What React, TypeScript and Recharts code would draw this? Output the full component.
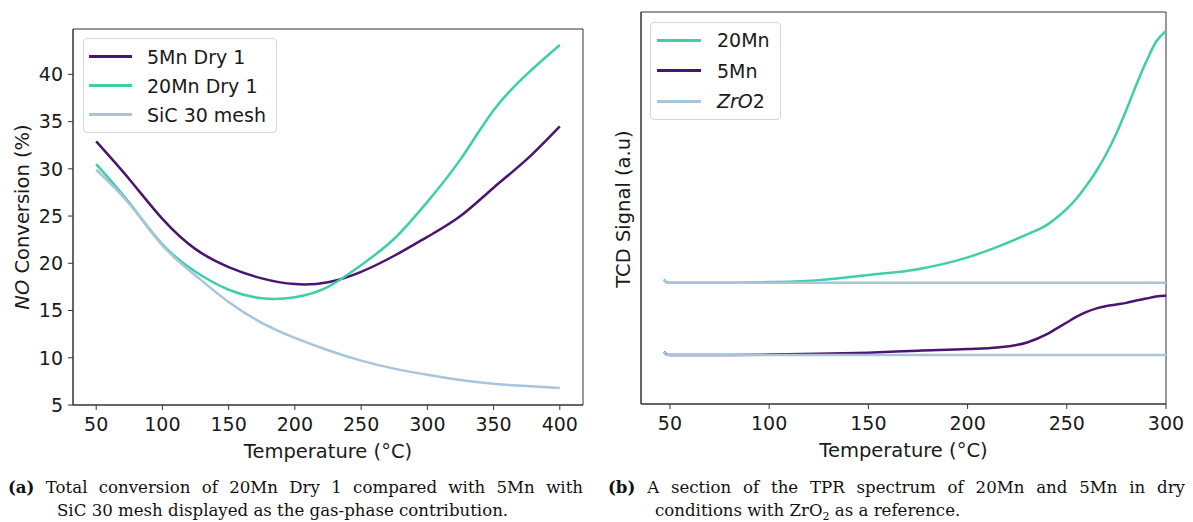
import React from "react";
import { LineChart, Line, XAxis, YAxis, ReferenceArea } from "recharts";

// (a) NO conversion vs temperature
const convTemps = [50, 75, 100, 125, 150, 175, 200, 225, 250, 275, 300, 325, 350, 375, 400];
const mn5Dry = [32.9, 28.9, 24.7, 21.5, 19.6, 18.4, 17.8, 18.0, 19.1, 20.8, 22.8, 25.0, 28.0, 31.0, 34.5];
const mn20Dry = [30.5, 26.4, 22.0, 19.1, 17.2, 16.3, 16.4, 17.5, 19.8, 22.6, 26.5, 31.0, 36.2, 40.0, 43.1];
const sicMesh = [29.9, 26.3, 21.9, 18.7, 15.9, 13.7, 12.1, 10.8, 9.7, 8.85, 8.2, 7.65, 7.25, 7.0, 6.8];
const convTicks = [50, 100, 150, 200, 250, 300, 350, 400];
const convYTicks = [5, 10, 15, 20, 25, 30, 35, 40];

// (b) TPR section, arbitrary units
const tprTemps = [47, 48.5, 50, 75, 100, 125, 150, 175, 200, 215, 230, 240, 245, 250, 255, 260, 265, 270, 275, 280, 285, 290, 295, 300];
const tpr20Mn = [31.8, 31.0, 30.9, 30.9, 31.1, 31.6, 32.9, 34.4, 37.4, 40.1, 43.3, 45.7, 47.6, 49.8, 52.5, 55.8, 59.5, 63.9, 69.0, 75.0, 81.4, 87.3, 92.4, 95.2];
const tpr5Mn = [13.3, 12.6, 12.5, 12.5, 12.6, 12.8, 13.1, 13.6, 14.0, 14.4, 15.7, 17.8, 19.3, 20.8, 22.3, 23.5, 24.4, 25.0, 25.4, 25.8, 26.4, 26.9, 27.4, 27.6];
const tprZrHigh = [31.6, 30.9, 30.9, 30.9, 30.9, 30.9, 30.9, 30.9, 30.9, 30.9, 30.9, 30.9, 30.9, 30.9, 30.9, 30.9, 30.9, 30.9, 30.9, 30.9, 30.9, 30.9, 30.9, 30.9];
const tprZrLow = [13.3, 12.5, 12.5, 12.5, 12.5, 12.5, 12.5, 12.5, 12.5, 12.5, 12.5, 12.5, 12.5, 12.5, 12.5, 12.5, 12.5, 12.5, 12.5, 12.5, 12.5, 12.5, 12.5, 12.5];
const tprTicks = [50, 100, 150, 200, 250, 300];

const PURPLE = "#4b1470";
const TEAL = "#3ecfa8";
const LIGHT = "#a7c5dc";
const AXIS = "#333";

const convData = convTemps.map((t, i) => ({
  t,
  mn5: mn5Dry[i],
  mn20: mn20Dry[i],
  sic: sicMesh[i],
}));

const tprData = tprTemps.map((t, i) => ({
  t,
  mn20: tpr20Mn[i],
  mn5: tpr5Mn[i],
  zrA: tprZrHigh[i],
  zrB: tprZrLow[i],
}));

const tickStyle = { fontSize: 19, fill: "#1a1a1a", fontFamily: "DejaVu Sans" };
const labelStyle = { fontSize: 19.5, fill: "#1a1a1a", fontFamily: "DejaVu Sans" };

function RotLabel({ cx, cy, children }: any) {
  return (
    <text
      x={cx}
      y={cy}
      transform={`rotate(-90, ${cx}, ${cy})`}
      textAnchor="middle"
      dominantBaseline="central"
      fontSize={19.5}
      fontFamily="DejaVu Sans"
      fill="#1a1a1a"
    >
      {children}
    </text>
  );
}

function LegendBox({ items, lineW, gap, rowH, pad, left, top }: any) {
  return (
    <div
      style={{
        position: "absolute",
        left,
        top,
        border: "1px solid #d6d6d6",
        borderRadius: 4,
        background: "#fff",
        padding: pad,
        fontFamily: "DejaVu Sans",
        fontSize: 19,
        color: "#1a1a1a",
      }}
    >
      {items.map((it: any, i: number) => (
        <div key={i} style={{ display: "flex", alignItems: "center", height: rowH }}>
          <div style={{ width: lineW, height: 3, background: it.color, marginRight: gap }} />
          <span style={{ whiteSpace: "nowrap" }}>{it.label}</span>
        </div>
      ))}
    </div>
  );
}

const capStyle: React.CSSProperties = {
  position: "absolute",
  fontFamily: "DejaVu Serif",
  fontSize: 16.6,
  lineHeight: "23px",
  color: "#111",
  whiteSpace: "nowrap",
};

export default function App() {
  return (
    <div style={{ position: "absolute", left: 0, top: 0, width: 1193, height: 522, background: "#fff" }}>
      <div style={{ position: "absolute", left: 0, top: 0 }}>
        <LineChart width={600} height={470} data={convData} margin={{ top: 29, right: 17, left: 0, bottom: 35 }}>
          <XAxis
            dataKey="t"
            type="number"
            domain={[32.5, 417.5]}
            ticks={convTicks}
            height={30}
            tick={tickStyle}
            tickSize={5}
            tickMargin={8}
            stroke={AXIS}
            label={{ value: "Temperature (°C)", position: "bottom", offset: 9, style: labelStyle }}
          />
          <YAxis
            type="number"
            domain={[5, 44.8]}
            ticks={convYTicks}
            width={73}
            tick={tickStyle}
            tickSize={5}
            tickMargin={5}
            stroke={AXIS}
            label={
              <RotLabel cx={22} cy={217}>
                <tspan fontStyle="italic">NO</tspan> Conversion (%)
              </RotLabel>
            }
          />
          <ReferenceArea x1={32.5} x2={417.5} y1={5} y2={44.8} fill="none" stroke={AXIS} strokeWidth={1} />
          <Line dataKey="mn5" type="natural" stroke={PURPLE} strokeWidth={2.5} dot={false} isAnimationActive={false} />
          <Line dataKey="mn20" type="natural" stroke={TEAL} strokeWidth={2.5} dot={false} isAnimationActive={false} />
          <Line dataKey="sic" type="natural" stroke={LIGHT} strokeWidth={2.5} dot={false} isAnimationActive={false} />
        </LineChart>
        <LegendBox
          left={83}
          top={38}
          pad="3px 10px 3px 5px"
          lineW={43}
          gap={15}
          rowH={29}
          items={[
            { color: PURPLE, label: "5Mn Dry 1" },
            { color: TEAL, label: "20Mn Dry 1" },
            { color: LIGHT, label: "SiC 30 mesh" },
          ]}
        />
      </div>

      <div style={{ position: "absolute", left: 600, top: 0 }}>
        <LineChart width={593} height={470} data={tprData} margin={{ top: 12, right: 27, left: 0, bottom: 36 }}>
          <XAxis
            dataKey="t"
            type="number"
            domain={[35.4, 300]}
            ticks={tprTicks}
            height={30}
            tick={tickStyle}
            tickSize={5}
            tickMargin={8}
            stroke={AXIS}
            label={{ value: "Temperature (°C)", position: "bottom", offset: 9, style: labelStyle }}
          />
          <YAxis
            type="number"
            domain={[0, 100]}
            width={41}
            tick={false}
            tickLine={false}
            stroke={AXIS}
            label={<RotLabel cx={23} cy={209}>TCD Signal (a.u)</RotLabel>}
          />
          <ReferenceArea x1={35.4} x2={300} y1={0} y2={100} fill="none" stroke={AXIS} strokeWidth={1} />
          <Line dataKey="mn20" type="monotone" stroke={TEAL} strokeWidth={2.5} dot={false} isAnimationActive={false} />
          <Line dataKey="mn5" type="monotone" stroke={PURPLE} strokeWidth={2.5} dot={false} isAnimationActive={false} />
          <Line dataKey="zrA" type="monotone" stroke={LIGHT} strokeWidth={2.5} dot={false} isAnimationActive={false} />
          <Line dataKey="zrB" type="monotone" stroke={LIGHT} strokeWidth={2.5} dot={false} isAnimationActive={false} />
        </LineChart>
        <LegendBox
          left={50}
          top={22}
          pad="2px 10px 2px 6px"
          lineW={44}
          gap={16}
          rowH={30.5}
          items={[
            { color: TEAL, label: "20Mn" },
            { color: PURPLE, label: "5Mn" },
            { color: LIGHT, label: <span><i>ZrO</i>2</span> },
          ]}
        />
      </div>

      <div style={{ ...capStyle, left: 8, top: 476, width: 575 }}>
        <div style={{ textAlign: "justify", textAlignLast: "justify", width: 575 }}>
          <b>(a)</b> Total conversion of 20Mn Dry 1 compared with 5Mn with
        </div>
        <div style={{ paddingLeft: 49 }}>SiC 30 mesh displayed as the gas-phase contribution.</div>
      </div>

      <div style={{ ...capStyle, left: 608, top: 476, width: 577 }}>
        <div style={{ textAlign: "justify", textAlignLast: "justify", width: 577 }}>
          <b>(b)</b> A section of the TPR spectrum of 20Mn and 5Mn in dry
        </div>
        <div style={{ paddingLeft: 47 }}>
          conditions with ZrO<sub style={{ fontSize: 11, lineHeight: 0 }}>2</sub> as a reference.
        </div>
      </div>
    </div>
  );
}
